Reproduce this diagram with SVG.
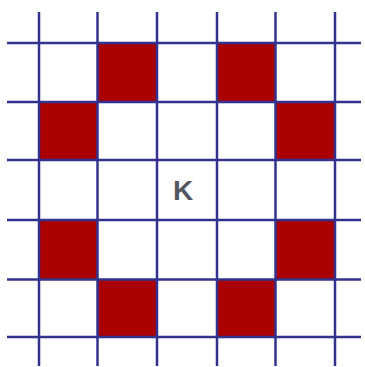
<svg xmlns="http://www.w3.org/2000/svg" width="365" height="367" viewBox="0 0 365 367">
<style>
.cell{fill:#aa0000}
.grid line{stroke:#33338f;stroke-width:2.5}
.lbl{font-family:"Liberation Sans",Arial,sans-serif;font-weight:bold;font-size:28px;fill:#525660}
</style>
<rect width="365" height="367" fill="#ffffff"/>
<g id="cells">
<rect class="cell" x="97.5" y="43" width="59.5" height="59"/>
<rect class="cell" x="217" y="43" width="58.5" height="59"/>
<rect class="cell" x="39" y="102" width="58.5" height="58"/>
<rect class="cell" x="275.5" y="102" width="59.5" height="58"/>
<rect class="cell" x="39" y="220" width="58.5" height="59.5"/>
<rect class="cell" x="275.5" y="220" width="59.5" height="59.5"/>
<rect class="cell" x="97.5" y="279.5" width="59.5" height="57.5"/>
<rect class="cell" x="217" y="279.5" width="58.5" height="57.5"/>
</g>
<g id="grid" class="grid">
<line x1="39" y1="12" x2="39" y2="366"/>
<line x1="97.5" y1="12" x2="97.5" y2="366"/>
<line x1="157" y1="12" x2="157" y2="366"/>
<line x1="217" y1="12" x2="217" y2="366"/>
<line x1="275.5" y1="12" x2="275.5" y2="366"/>
<line x1="335" y1="12" x2="335" y2="366"/>
<line x1="7" y1="43" x2="361" y2="43"/>
<line x1="7" y1="102" x2="361" y2="102"/>
<line x1="7" y1="160" x2="361" y2="160"/>
<line x1="7" y1="220" x2="361" y2="220"/>
<line x1="7" y1="279.5" x2="361" y2="279.5"/>
<line x1="7" y1="337" x2="361" y2="337"/>
</g>
<g id="label">
<text class="lbl" x="183" y="199.5" text-anchor="middle">K</text>
</g>
</svg>
